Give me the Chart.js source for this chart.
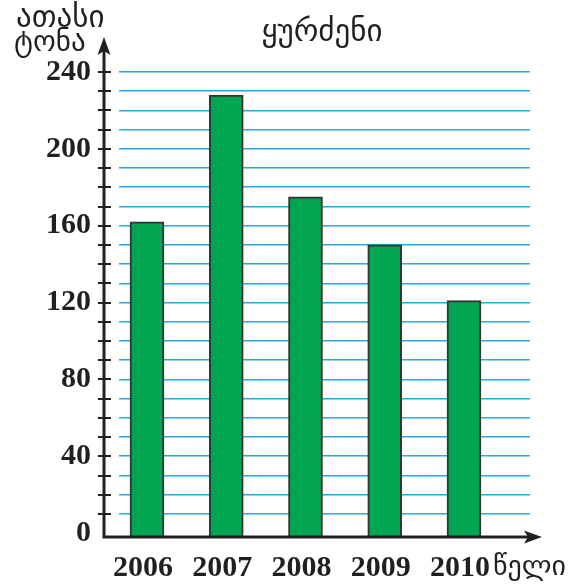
<!DOCTYPE html>
<html>
<head>
<meta charset="utf-8">
<script src="https://cdn.jsdelivr.net/npm/chart.js@4"></script>
<style>
  html, body { margin: 0; padding: 0; background: #fff; }
</style>
</head>
<body>
<canvas id="chart" width="580" height="588"></canvas>
<script>
const years = [2006, 2007, 2008, 2009, 2010]
const tonnes = [162, 228, 175, 150, 121]
const gridValues = [0, 10, 20, 30, 40, 50, 60, 70, 80, 90, 100, 110, 120, 130, 140, 150, 160, 170, 180, 190, 200, 210, 220, 230, 240]
const yTickLabels = [0, 40, 80, 120, 160, 200, 240]
const title = 'ყურძენი'
const yName = ['ათასი', 'ტონა']
const xName = 'წელი'

const ink = '#231f20'
const geo = '"DejaVu Sans", sans-serif'
const numFont = { family: '"Liberation Serif", serif', size: 30, weight: 'bold' }

const arrowHead = (ctx, pts) => {
  ctx.beginPath()
  ctx.moveTo(pts[0][0], pts[0][1])
  pts.slice(1).forEach(p => ctx.lineTo(p[0], p[1]))
  ctx.closePath()
  ctx.fill()
}

const axesPlugin = {
  id: 'axes',
  afterDatasetsDraw (chart) {
    const { ctx, chartArea, scales: { y } } = chart
    const ax = chartArea.left - 15
    const ay = chartArea.bottom
    ctx.save()
    ctx.strokeStyle = ink
    ctx.fillStyle = ink
    ctx.lineWidth = 3
    ctx.beginPath()
    ctx.moveTo(ax, ay + 1.5)
    ctx.lineTo(ax, 50)
    ctx.moveTo(ax - 1.5, ay)
    ctx.lineTo(530, ay)
    ctx.stroke()

    ctx.lineWidth = 2
    ctx.beginPath()
    y.ticks.forEach(t => {
      if (t.value <= 0) return
      const py = Math.round(y.getPixelForValue(t.value))
      ctx.moveTo(ax - 6, py)
      ctx.lineTo(ax + 7, py)
    })
    ctx.stroke()

    arrowHead(ctx, [[ax, 37], [ax - 6.5, 55], [ax, 51], [ax + 6.5, 55]])
    arrowHead(ctx, [[542, ay], [524, ay - 6.5], [528, ay], [524, ay + 6.5]])

    ctx.textBaseline = 'alphabetic'
    ctx.textAlign = 'left'
    ctx.font = `31px ${geo}`
    ctx.fillText(yName[0], 16, 27)
    ctx.font = `29px ${geo}`
    ctx.fillText(yName[1], 14, 51)
    ctx.font = `28px ${geo}`
    ctx.fillText(xName, 493, 575)
    ctx.font = `31px ${geo}`
    ctx.textAlign = 'center'
    ctx.fillText(title, 322, 41)
    ctx.restore()
  }
}

new Chart(document.getElementById('chart'), {
  type: 'bar',
  data: {
    datasets: [{
      data: years.map((yr, i) => ({ x: yr, y: tonnes[i] })),
      base: -2,
      barThickness: 34,
      backgroundColor: '#00a551',
      borderColor: '#333333',
      borderWidth: 2,
    }],
  },
  options: {
    responsive: false,
    animation: false,
    devicePixelRatio: 1,
    layout: { padding: { left: 0, right: 50, top: 72, bottom: 0 } },
    plugins: { legend: { display: false }, tooltip: { enabled: false } },
    scales: {
      x: {
        type: 'linear',
        offset: false,
        min: 2005.6467,
        max: 2010.833,
        afterBuildTicks: s => { s.ticks = years.map(value => ({ value })) },
        afterFit: s => { s.height = 51 },
        grid: { display: false },
        border: { display: false },
        ticks: {
          padding: 5,
          labelOffset: -4,
          autoSkip: false,
          maxRotation: 0,
          color: ink,
          font: numFont,
          callback: v => String(v),
        },
      },
      y: {
        min: -2,
        max: 240,
        afterBuildTicks: s => { s.ticks = gridValues.map(value => ({ value })) },
        afterFit: s => { s.width = 119 },
        grid: {
          drawTicks: false,
          lineWidth: 1.6,
          color: c => (c.tick && c.tick.value === 0 ? 'rgba(0,0,0,0)' : '#27aae1'),
        },
        border: { display: false },
        ticks: {
          padding: 28,
          autoSkip: false,
          color: ink,
          font: numFont,
          callback: v => (yTickLabels.includes(v) ? String(v) : ''),
        },
      },
    },
  },
  plugins: [axesPlugin],
})
</script>
</body>
</html>
